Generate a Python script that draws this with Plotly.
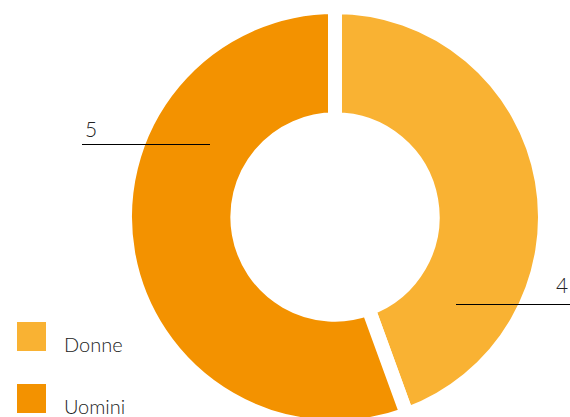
import plotly.graph_objects as go

# Data
categories = ["Donne", "Uomini"]
values = [4, 5]
colors = ["#F9B233", "#F39200"]

W, H = 570, 434  # figure is a bit taller than the window so the ring runs off the bottom


def px(x):
    return x / W


def py(y):
    return 1 - y / H


fig = go.Figure(
    go.Pie(
        labels=categories,
        values=values,
        hole=0.465,
        sort=False,
        direction="clockwise",
        rotation=0,
        textinfo="none",
        hoverinfo="label+value",
        marker=dict(colors=colors, line=dict(color="white", width=14)),
        domain=dict(x=[px(125), px(545)], y=[py(427), py(7)]),
        showlegend=False,
    )
)

font = dict(family="Lato, 'Open Sans', sans-serif", color="#222222", weight=300)

# Value labels with leader lines
label_specs = [
    # (value, text x, text y, line x0, line x1, line y, anchor)
    (values[1], 83, 128, 82, 210, 144.5, "left"),
    (values[0], 570, 284, 456, 570, 304.5, "right"),
]
shapes = []
annotations = []
for val, tx, ty, x0, x1, ly, anchor in label_specs:
    shapes.append(dict(type="line", xref="paper", yref="paper",
                       x0=px(x0), x1=px(x1), y0=py(ly), y1=py(ly),
                       line=dict(color="#000000", width=1.2)))
    annotations.append(dict(text=str(val), xref="paper", yref="paper",
                            x=px(tx), y=py(ty), xanchor=anchor, yanchor="middle",
                            showarrow=False, font=dict(font, size=21)))

# Legend drawn as swatches plus text
legend_rows = [(categories[0], colors[0], 322), (categories[1], colors[1], 384)]
for name, col, top in legend_rows:
    shapes.append(dict(type="rect", xref="paper", yref="paper",
                       x0=px(17), x1=px(46), y0=py(top + 29), y1=py(top),
                       fillcolor=col, line=dict(width=0)))
    annotations.append(dict(text=name, xref="paper", yref="paper",
                            x=px(62), y=py(top + 22), xanchor="left", yanchor="middle",
                            showarrow=False, font=dict(font, size=20)))

fig.update_layout(
    width=W, height=H,
    margin=dict(l=0, r=0, t=0, b=0),
    paper_bgcolor="white",
    plot_bgcolor="white",
    shapes=shapes,
    annotations=annotations,
)

fig.write_html(
    "out.html",
    post_script="document.documentElement.style.overflow='hidden';document.body.style.overflow='hidden';document.body.style.margin='0';",
)
